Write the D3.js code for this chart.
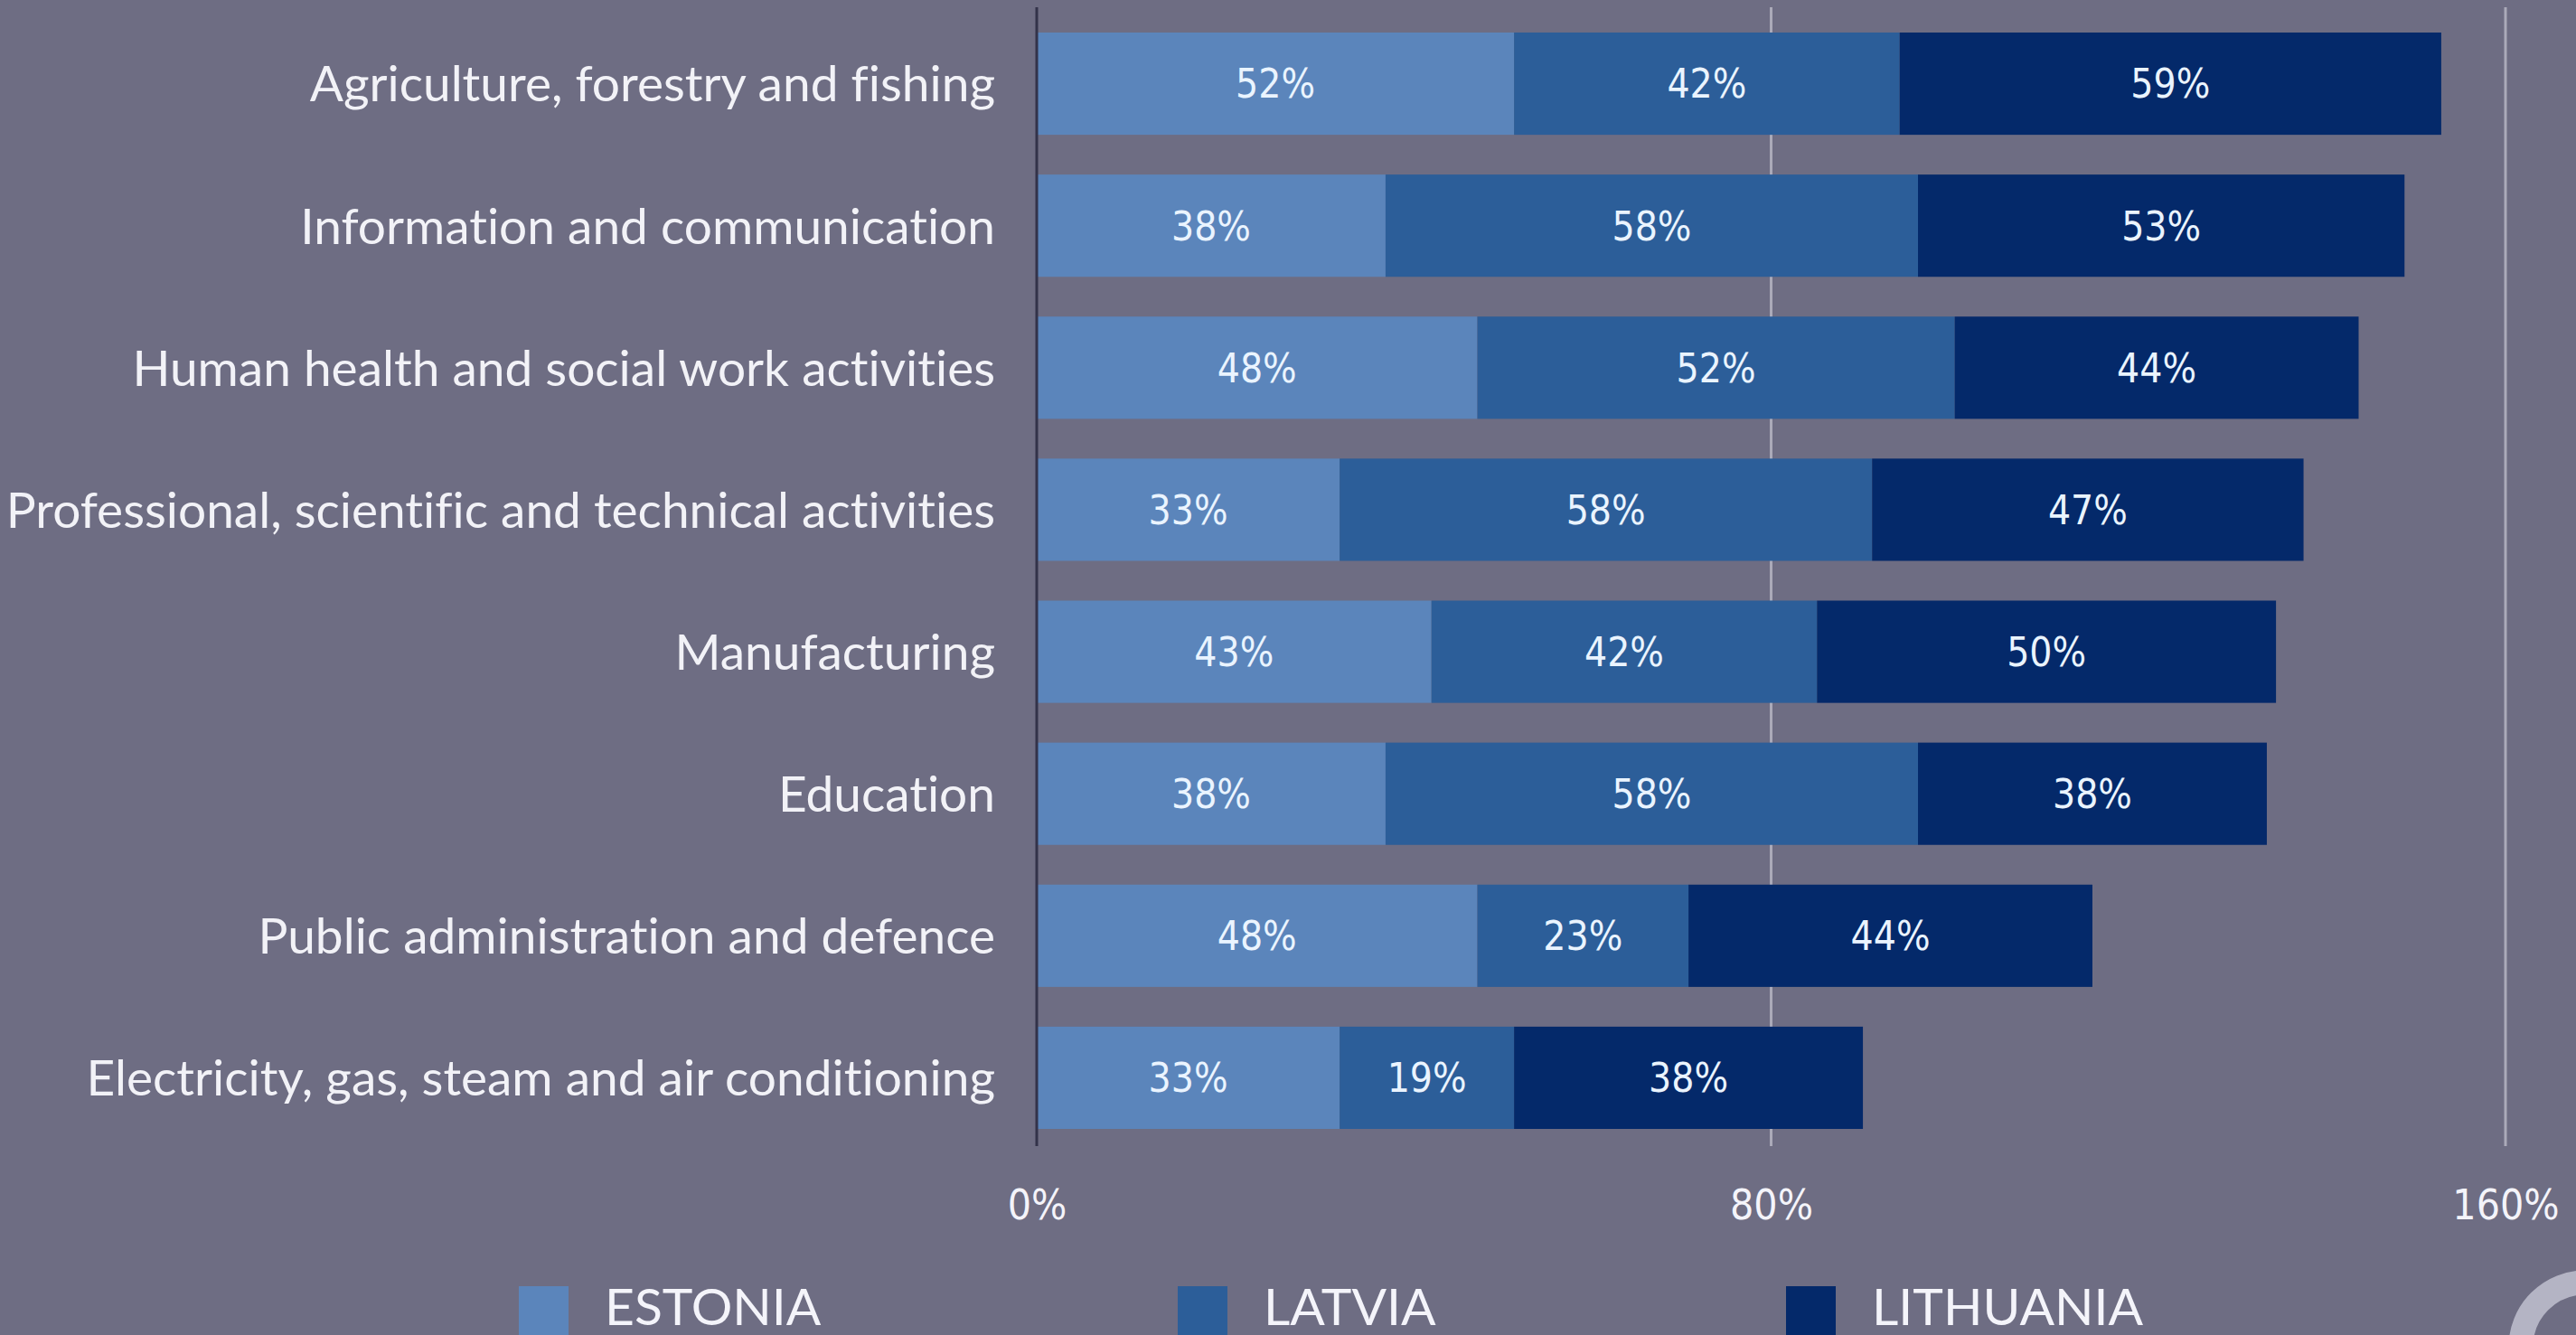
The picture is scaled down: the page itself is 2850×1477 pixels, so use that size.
<!DOCTYPE html>
<html>
<head>
<meta charset="utf-8">
<script src="https://cdn.jsdelivr.net/npm/d3@7"></script>
<style>
  html, body { margin: 0; padding: 0; background: #6e6d83; overflow: hidden; }
  svg { display: block; }
</style>
</head>
<body>
<svg id="chart" width="2850" height="1477"></svg>
<script>
// ---- data ----
const categories = [
  "Agriculture, forestry and fishing",
  "Information and communication",
  "Human health and social work activities",
  "Professional, scientific and technical activities",
  "Manufacturing",
  "Education",
  "Public administration and defence",
  "Electricity, gas, steam and air conditioning"
];
const seriesNames = ["ESTONIA", "LATVIA", "LITHUANIA"];
const estonia   = [52, 38, 48, 33, 43, 38, 48, 33];
const latvia    = [42, 58, 52, 58, 42, 58, 23, 19];
const lithuania = [59, 53, 44, 47, 50, 38, 44, 38];
const tickValues = [0, 80, 160];
const tickLabels = ["0%", "80%", "160%"];

// ---- style ----
const colors = ["#5b85bb", "#2c5e99", "#04296a"];
const W = 2850, H = 1477;
const svg = d3.select("#chart");
svg.append("rect").attr("width", W).attr("height", H).attr("fill", "#6e6d83");

const x = d3.scaleLinear().domain([0, 160]).range([1147, 2772]);
const y = d3.scaleBand().domain(categories).range([14, 1271]).paddingInner(0.28).paddingOuter(0.14);

const rows = categories.map((c, i) => ({ cat: c, vals: [estonia[i], latvia[i], lithuania[i]] }));
const stack = d3.stack().keys([0, 1, 2]).value((d, k) => d.vals[k]);
const stacked = stack(rows);

// gridlines
svg.append("g").selectAll("line").data(tickValues.slice(1)).join("line")
  .attr("x1", d => x(d)).attr("x2", d => x(d))
  .attr("y1", 8).attr("y2", 1268)
  .attr("stroke", "#c4c4d0").attr("stroke-opacity", 0.7).attr("stroke-width", 3);

// bars
const layers = svg.append("g").selectAll("g").data(stacked).join("g")
  .attr("fill", (d, i) => colors[i]);
layers.selectAll("rect").data(d => d).join("rect")
  .attr("x", d => x(d[0]))
  .attr("width", d => x(d[1]) - x(d[0]))
  .attr("y", d => y(d.data.cat))
  .attr("height", y.bandwidth());

// value labels
const valFont = "'Liberation Sans Narrow', 'DejaVu Sans Condensed', 'Roboto Condensed', sans-serif";
layers.selectAll("text").data(d => d).join("text")
  .attr("x", d => (x(d[0]) + x(d[1])) / 2)
  .attr("y", d => y(d.data.cat) + y.bandwidth() / 2)
  .attr("dy", "0.36em")
  .attr("text-anchor", "middle")
  .attr("fill", "#eaf4ff")
  .attr("font-family", valFont)
  .attr("font-size", 44)
  .attr("font-stretch", "condensed")
  .text(d => (d[1] - d[0]) + "%");

// zero axis line
svg.append("line")
  .attr("x1", x(0)).attr("x2", x(0)).attr("y1", 8).attr("y2", 1268)
  .attr("stroke", "#33334a").attr("stroke-width", 3);

// category labels
const yAxis = d3.axisLeft(y).tickSize(0).tickPadding(46);
const yg = svg.append("g").attr("transform", `translate(${x(0)},0)`).call(yAxis);
yg.select(".domain").remove();
yg.selectAll("text")
  .attr("fill", "#f2f2f7")
  .attr("font-family", "Lato, 'Open Sans', sans-serif")
  .attr("font-size", 55)
  .style("font-variant-ligatures", "none")
  .attr("dy", "0.36em");

// x tick labels
const xAxis = d3.axisBottom(x).tickValues(tickValues).tickFormat((d, i) => tickLabels[i]).tickSize(0).tickPadding(0);
const xg = svg.append("g").attr("transform", `translate(0,1332)`).call(xAxis);
xg.select(".domain").remove();
xg.selectAll("text")
  .attr("y", 0)
  .attr("dy", "0.36em")
  .attr("fill", "#f4f4fa")
  .attr("font-family", valFont)
  .attr("font-stretch", "condensed")
  .attr("font-size", 46);

// legend
const legendX = [574, 1303, 1976];
const lg = svg.append("g").selectAll("g").data(seriesNames).join("g")
  .attr("transform", (d, i) => `translate(${legendX[i]},1423)`);
lg.append("rect").attr("width", 55).attr("height", 70).attr("fill", (d, i) => colors[i]);
lg.append("text")
  .attr("x", 95).attr("y", 43)
  .attr("fill", "#f4f4fa")
  .attr("font-family", "Lato, 'Open Sans', sans-serif")
  .attr("font-size", 57)
  .text(d => d);

// partial logo ring bottom-right
svg.append("circle")
  .attr("cx", 2860).attr("cy", 1490).attr("r", 71)
  .attr("fill", "none").attr("stroke", "#b4b4c4").attr("stroke-width", 27);
</script>
</body>
</html>
